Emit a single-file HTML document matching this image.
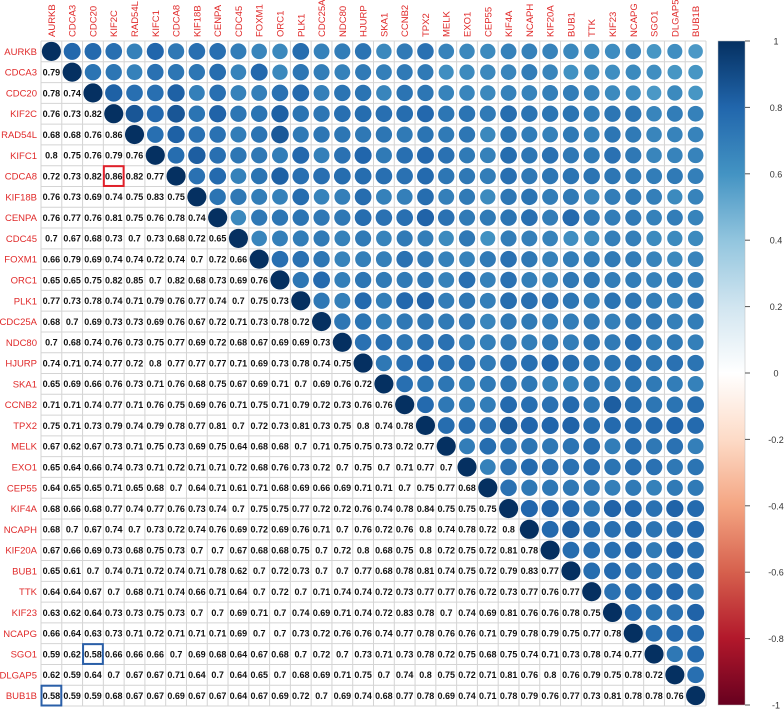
<!DOCTYPE html>
<html><head><meta charset="utf-8"><style>
body{margin:0;background:#fff;}
svg{display:block;font-family:"Liberation Sans",sans-serif;}
</style></head><body>
<svg id="chart" width="784" height="709" viewBox="0 0 784 709"></svg>
<script>
const genes = ["AURKB","CDCA3","CDC20","KIF2C","RAD54L","KIFC1","CDCA8","KIF18B","CENPA","CDC45","FOXM1","ORC1","PLK1","CDC25A","NDC80","HJURP","SKA1","CCNB2","TPX2","MELK","EXO1","CEP55","KIF4A","NCAPH","KIF20A","BUB1","TTK","KIF23","NCAPG","SGO1","DLGAP5","BUB1B"];
const lowerRows = [
[],
[.79],
[.78,.74],
[.76,.73,.82],
[.68,.68,.76,.86],
[.8,.75,.76,.79,.76],
[.72,.73,.82,.86,.82,.77],
[.76,.73,.69,.74,.75,.83,.75],
[.76,.77,.76,.81,.75,.76,.78,.74],
[.7,.67,.68,.73,.7,.73,.68,.72,.65],
[.66,.79,.69,.74,.74,.72,.74,.7,.72,.66],
[.65,.65,.75,.82,.85,.7,.82,.68,.73,.69,.76],
[.77,.73,.78,.74,.71,.79,.76,.77,.74,.7,.75,.73],
[.68,.7,.69,.73,.73,.69,.76,.67,.72,.71,.73,.78,.72],
[.7,.68,.74,.76,.73,.75,.77,.69,.72,.68,.67,.69,.69,.73],
[.74,.71,.74,.77,.72,.8,.77,.77,.77,.71,.69,.73,.78,.74,.75],
[.65,.69,.66,.76,.73,.71,.76,.68,.75,.67,.69,.71,.7,.69,.76,.72],
[.71,.71,.74,.77,.71,.76,.75,.69,.76,.71,.75,.71,.79,.72,.73,.76,.76],
[.75,.71,.73,.79,.74,.79,.78,.77,.81,.7,.72,.73,.81,.73,.75,.8,.74,.78],
[.67,.62,.67,.73,.71,.75,.73,.69,.75,.64,.68,.68,.7,.71,.75,.75,.73,.72,.77],
[.65,.64,.66,.74,.73,.71,.72,.71,.71,.72,.68,.76,.73,.72,.7,.75,.7,.71,.77,.7],
[.64,.65,.65,.71,.65,.68,.7,.64,.71,.61,.71,.68,.69,.66,.69,.71,.71,.7,.75,.77,.68],
[.68,.66,.68,.77,.74,.77,.76,.73,.74,.7,.75,.75,.77,.72,.72,.76,.74,.78,.84,.75,.75,.75],
[.68,.7,.67,.74,.7,.73,.72,.74,.76,.69,.72,.69,.76,.71,.7,.76,.72,.76,.8,.74,.78,.72,.8],
[.67,.66,.69,.73,.68,.75,.73,.7,.7,.67,.68,.68,.75,.7,.72,.8,.68,.75,.8,.72,.75,.72,.81,.78],
[.65,.61,.7,.74,.71,.72,.74,.71,.78,.62,.7,.72,.73,.7,.7,.77,.68,.78,.81,.74,.75,.72,.79,.83,.77],
[.64,.64,.67,.7,.68,.71,.74,.66,.71,.64,.7,.72,.7,.71,.74,.74,.72,.73,.77,.77,.76,.72,.73,.77,.76,.77],
[.63,.62,.64,.73,.73,.75,.73,.7,.7,.69,.71,.7,.74,.69,.71,.74,.72,.83,.78,.7,.74,.69,.81,.76,.76,.78,.75],
[.66,.64,.63,.73,.71,.72,.71,.71,.71,.69,.7,.7,.73,.72,.76,.76,.74,.77,.78,.76,.76,.71,.79,.78,.79,.75,.77,.78],
[.59,.62,.58,.66,.66,.66,.7,.69,.68,.64,.67,.68,.7,.72,.7,.73,.71,.73,.78,.72,.75,.68,.75,.74,.71,.73,.78,.74,.77],
[.62,.59,.64,.7,.67,.67,.71,.64,.7,.64,.65,.7,.68,.69,.71,.75,.7,.74,.8,.75,.72,.71,.81,.76,.8,.76,.79,.75,.78,.72],
[.58,.59,.59,.68,.67,.67,.69,.67,.67,.64,.67,.69,.72,.7,.69,.74,.68,.77,.78,.69,.74,.71,.78,.79,.76,.77,.73,.81,.78,.78,.76]
];
const colorTicks = [1,0.8,0.6,0.4,0.2,0,-0.2,-0.4,-0.6,-0.8,-1];
const highlights = [{row:6,col:3,color:"#e0202a"},{row:29,col:2,color:"#2a5fa8"},{row:31,col:0,color:"#2a5fa8"}];

const svg=document.getElementById('chart');
const NS="http://www.w3.org/2000/svg";
const N=genes.length, X0=41, Y0=41, SIZE=665, C=SIZE/N;
const stops=["#67001F","#B2182B","#D6604D","#F4A582","#FDDBC7","#FFFFFF","#D1E5F0","#92C5DE","#4393C3","#2166AC","#053061"];
function hex(h){return [1,3,5].map(i=>parseInt(h.substr(i,2),16));}
function col(v){let t=(v+1)/2*10;let i=Math.min(9,Math.floor(t));let f=t-i;const a=hex(stops[i]),b=hex(stops[i+1]);return "rgb("+a.map((x,k)=>Math.round(x+(b[k]-x)*f)).join(",")+")";}
function mk(tag,attrs,parent){const e=document.createElementNS(NS,tag);for(const k in attrs)e.setAttribute(k,attrs[k]);(parent||svg).appendChild(e);return e;}
function val(i,j){if(i===j)return 1;return i>j?lowerRows[i][j]:lowerRows[j][i];}
const xs=j=>X0+j*C, ys=i=>Y0+i*C;

const grid=mk('g',{});


for(let k=0;k<=N;k++){
  mk('line',{x1:xs(k),x2:xs(k),y1:Y0,y2:Y0+SIZE,stroke:"#d4d4d4","stroke-width":1},grid);
  mk('line',{y1:ys(k),y2:ys(k),x1:X0,x2:X0+SIZE,stroke:"#d4d4d4","stroke-width":1},grid);
}
for(let i=0;i<N;i++){
  const rl=mk('text',{x:X0-4,y:ys(i)+C/2+3.5,"text-anchor":"end","font-size":9.5,fill:"#e02a2a"});
  rl.textContent=genes[i];
  
  
  const cx=xs(i)+C/2+3.5, cy=Y0-4;
  const cl=mk('text',{x:cx,y:cy,transform:`rotate(-90 ${cx} ${cy})`,"font-size":9.5,fill:"#e02a2a"});
  cl.textContent=genes[i];
  
  
  for(let j=0;j<N;j++){
    const v=val(i,j);
    if(j>=i){
      const c=mk('circle',{cx:xs(j)+C/2,cy:ys(i)+C/2,r:0.46*C*Math.sqrt(Math.abs(v)),fill:col(v)});
      
      
    } else {
      const t=mk('text',{x:xs(j)+C/2,y:ys(i)+C/2+3.3,"text-anchor":"middle","font-size":9,"font-weight":"bold",fill:"#111"});
      t.textContent=String(v);
      
      
    }
  }
}
highlights.forEach(h=>{
  const r=mk('rect',{x:xs(h.col)+0.5,y:ys(h.row)+0.5,width:C-1,height:C-1,fill:"none",stroke:h.color,"stroke-width":2});
  
  
});
const BX=718,BW=27,BT=41,BB=705;
const defs=mk('defs',{});
const lg=mk('linearGradient',{id:"cg",x1:0,y1:0,x2:0,y2:1},defs);
stops.slice().reverse().forEach((s,k)=>mk('stop',{offset:(k/10),"stop-color":s},lg));
const bar=mk('rect',{x:BX,y:BT,width:BW,height:BB-BT,fill:"url(#cg)",stroke:"#bbb","stroke-width":0.5});


colorTicks.forEach(v=>{
  const y=BT+(1-v)/2*(BB-BT);
  mk('line',{x1:BX+BW,x2:BX+BW+5,y1:y,y2:y,stroke:"#555","stroke-width":1});
  const t=mk('text',{x:776,y:y+3.5,"text-anchor":"middle","font-size":9,fill:"#333"});
  t.textContent=String(v);
  
  
});
</script>
</body></html>
